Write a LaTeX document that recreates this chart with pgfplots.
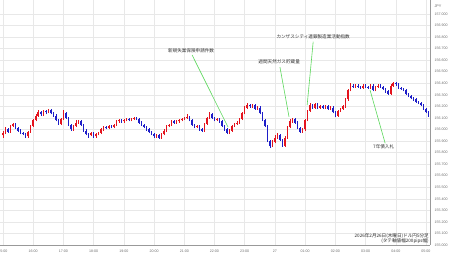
\documentclass[border=0pt]{standalone}
\usepackage{pgfplots}
\pgfplotsset{compat=1.18}
\usepackage{pgfplotstable}
\usepackage{fontspec}
\setmainfont{Liberation Sans}
\newfontfamily\cjk{Noto Sans CJK JP}
\definecolor{upcol}{RGB}{228,20,30}
\definecolor{dncol}{RGB}{30,30,200}
\definecolor{anno}{RGB}{90,215,90}
\definecolor{gridc}{RGB}{232,232,232}
\definecolor{tickc}{RGB}{110,110,110}

\pgfplotstableread{
k o c h l
0 155.95 155.97 155.99 155.93
1 155.97 156.00 156.02 155.96
2 156.00 155.98 156.01 155.97
3 155.98 156.03 156.04 155.97
4 156.03 156.05 156.06 156.02
5 156.05 156.01 156.06 156.00
6 156.01 155.99 156.02 155.98
7 155.99 155.97 156.00 155.96
8 155.97 155.96 155.98 155.95
9 155.96 155.94 155.97 155.93
10 155.94 155.98 155.99 155.93
11 155.98 156.03 156.04 155.97
12 156.03 156.08 156.09 156.02
13 156.08 156.12 156.13 156.07
14 156.12 156.15 156.17 156.11
15 156.15 156.13 156.16 156.12
16 156.13 156.16 156.17 156.12
17 156.16 156.15 156.17 156.13
18 156.15 156.17 156.18 156.14
19 156.17 156.14 156.18 156.13
20 156.14 156.12 156.15 156.11
21 156.12 156.08 156.13 156.07
22 156.08 156.05 156.09 156.04
23 156.05 156.09 156.10 156.04
24 156.09 156.14 156.17 156.08
25 156.14 156.10 156.15 156.09
26 156.10 156.04 156.11 156.03
27 156.04 156.00 156.05 155.99
28 156.00 156.03 156.04 155.99
29 156.03 156.06 156.08 156.02
30 156.06 156.07 156.08 156.05
31 156.07 156.04 156.08 156.03
32 156.04 155.99 156.05 155.98
33 155.99 155.96 156.00 155.95
34 155.96 155.95 155.97 155.93
35 155.95 155.97 155.98 155.94
36 155.97 155.94 155.98 155.93
37 155.94 155.96 155.97 155.93
38 155.96 155.97 155.98 155.95
39 155.97 156.00 156.01 155.96
40 156.00 156.02 156.03 155.99
41 156.02 156.01 156.03 156.00
42 156.01 156.03 156.04 156.00
43 156.03 156.02 156.04 156.01
44 156.02 156.04 156.05 156.01
45 156.04 156.07 156.08 156.03
46 156.07 156.08 156.09 156.06
47 156.08 156.07 156.09 156.06
48 156.07 156.08 156.09 156.06
49 156.08 156.09 156.10 156.07
50 156.09 156.08 156.10 156.07
51 156.08 156.09 156.10 156.07
52 156.09 156.10 156.11 156.08
53 156.10 156.09 156.11 156.08
54 156.09 156.06 156.10 156.05
55 156.06 156.04 156.07 156.03
56 156.04 156.02 156.05 156.01
57 156.02 156.00 156.03 155.99
58 156.00 155.98 156.01 155.97
59 155.98 155.96 155.99 155.95
60 155.96 155.94 155.97 155.93
61 155.94 155.95 155.96 155.93
62 155.95 155.93 155.96 155.92
63 155.93 155.96 155.97 155.92
64 155.96 155.99 156.00 155.95
65 155.99 156.03 156.04 155.98
66 156.03 156.04 156.05 156.02
67 156.04 156.07 156.08 156.03
68 156.07 156.06 156.08 156.05
69 156.06 156.07 156.08 156.05
70 156.07 156.08 156.09 156.06
71 156.08 156.09 156.10 156.07
72 156.09 156.10 156.11 156.08
73 156.10 156.11 156.13 156.09
74 156.11 156.08 156.12 156.07
75 156.08 156.04 156.09 156.03
76 156.04 156.02 156.05 156.01
77 156.02 156.03 156.04 156.01
78 156.03 156.00 156.04 155.99
79 156.00 155.99 156.01 155.98
80 155.99 156.05 156.06 155.98
81 156.05 156.10 156.11 156.04
82 156.10 156.13 156.15 156.09
83 156.13 156.10 156.14 156.09
84 156.10 156.08 156.11 156.07
85 156.08 156.09 156.10 156.07
86 156.09 156.07 156.10 156.06
87 156.07 156.03 156.08 156.02
88 156.03 156.00 156.04 155.99
89 156.00 155.97 156.01 155.96
90 155.97 155.99 156.00 155.96
91 155.99 156.03 156.04 155.98
92 156.03 156.05 156.06 156.02
93 156.05 156.06 156.07 156.04
94 156.06 156.09 156.10 156.05
95 156.09 156.14 156.15 156.08
96 156.14 156.19 156.20 156.13
97 156.19 156.21 156.23 156.18
98 156.21 156.20 156.22 156.19
99 156.20 156.21 156.22 156.19
100 156.21 156.18 156.22 156.17
101 156.18 156.19 156.20 156.17
102 156.19 156.14 156.20 156.13
103 156.14 156.08 156.15 156.07
104 156.08 156.03 156.09 156.02
105 156.03 155.90 156.04 155.89
106 155.90 155.86 155.91 155.84
107 155.86 155.89 155.91 155.85
108 155.89 155.93 155.95 155.88
109 155.93 155.95 155.97 155.92
110 155.95 155.91 155.96 155.90
111 155.91 155.86 155.92 155.85
112 155.86 155.93 155.94 155.85
113 155.93 156.02 156.03 155.92
114 156.02 156.07 156.09 156.01
115 156.07 156.09 156.10 156.06
116 156.09 156.06 156.10 156.05
117 156.06 156.01 156.07 156.00
118 156.01 155.98 156.02 155.97
119 155.98 156.00 156.01 155.97
120 156.00 156.08 156.09 155.99
121 156.08 156.16 156.17 156.07
122 156.16 156.21 156.23 156.15
123 156.21 156.19 156.22 156.18
124 156.19 156.22 156.23 156.18
125 156.22 156.19 156.23 156.18
126 156.19 156.20 156.21 156.18
127 156.20 156.19 156.21 156.18
128 156.19 156.20 156.21 156.18
129 156.20 156.18 156.21 156.17
130 156.18 156.19 156.20 156.17
131 156.19 156.15 156.20 156.14
132 156.15 156.12 156.16 156.11
133 156.12 156.16 156.17 156.11
134 156.16 156.18 156.19 156.15
135 156.18 156.20 156.21 156.17
136 156.20 156.26 156.27 156.19
137 156.26 156.34 156.35 156.25
138 156.34 156.38 156.40 156.33
139 156.38 156.37 156.39 156.36
140 156.37 156.38 156.39 156.36
141 156.38 156.37 156.39 156.36
142 156.37 156.36 156.38 156.35
143 156.36 156.38 156.39 156.35
144 156.38 156.37 156.39 156.36
145 156.37 156.36 156.38 156.35
146 156.36 156.38 156.39 156.35
147 156.38 156.34 156.39 156.33
148 156.34 156.37 156.38 156.33
149 156.37 156.38 156.39 156.36
150 156.38 156.37 156.39 156.36
151 156.37 156.35 156.38 156.34
152 156.35 156.33 156.36 156.32
153 156.33 156.31 156.34 156.30
154 156.31 156.38 156.39 156.30
155 156.38 156.40 156.41 156.37
156 156.40 156.39 156.41 156.38
157 156.39 156.36 156.40 156.35
158 156.36 156.35 156.37 156.34
159 156.35 156.34 156.36 156.33
160 156.34 156.31 156.35 156.30
161 156.31 156.29 156.32 156.28
162 156.29 156.27 156.30 156.26
163 156.27 156.26 156.28 156.25
164 156.26 156.24 156.27 156.23
165 156.24 156.23 156.25 156.22
166 156.23 156.21 156.24 156.20
167 156.21 156.18 156.22 156.17
168 156.18 156.15 156.19 156.14
169 156.15 156.12 156.16 156.11
}\candles

\pgfplotsset{
  candle/.style 2 args={draw=none, mark=none, forget plot,
    /pgfplots/error bars/y dir=plus,
    /pgfplots/error bars/y explicit,
    /pgfplots/error bars/error mark=none,
    /pgfplots/error bars/error bar style={draw=#1, line width=#2, solid, line cap=butt}},
}

\begin{document}
\begin{tikzpicture}
\begin{axis}[
  scale only axis, width=430pt, height=245pt,
  xmin=-1.19, xmax=169.6, ymin=155, ymax=157.121,
  axis x line*=bottom, axis y line*=right,
  axis line style={draw=gray!80, line width=0.5pt},
  yticklabel pos=right,
  ytick={155,155.1,155.2,155.3,155.4,155.5,155.6,155.7,155.8,155.9,156,156.1,156.2,156.3,156.4,156.5,156.6,156.7,156.8,156.9,157},
  xtick={0,12,24,36,48,60,72,84,96,108,120,132,144,156,168},
  xticklabels={15:00,16:00,17:00,18:00,19:00,20:00,21:00,22:00,23:00,27,01:00,02:00,03:00,04:00,05:00},
  major tick length=0pt,
  grid=major, major grid style={draw=gridc, line width=0.5pt},
  /pgf/number format/.cd, fixed, fixed zerofill, precision=3, 1000 sep={}, assume math mode=true,
  /pgfplots/.cd,
  yticklabel style={font=\fontsize{3.6}{4}\selectfont, text=tickc, xshift=1pt},
  xticklabel style={font=\fontsize{3.6}{4}\selectfont, text=tickc, yshift=-1.5pt},
  clip=false,
]
% wicks
\addplot[restrict expr to domain={\thisrow{c}-\thisrow{o}}{-0.0001:1}, candle={upcol}{0.45pt}]
  table[x=k, y=l, y error plus expr={\thisrow{h}-\thisrow{l}}] {\candles};
\addplot[restrict expr to domain={\thisrow{c}-\thisrow{o}}{-1:-0.0001}, candle={dncol}{0.45pt}]
  table[x=k, y=l, y error plus expr={\thisrow{h}-\thisrow{l}}] {\candles};
% bodies
\addplot[restrict expr to domain={\thisrow{c}-\thisrow{o}}{-0.0001:1}, candle={upcol}{1.5pt}]
  table[x=k, y=o, y error plus expr={\thisrow{c}-\thisrow{o}}] {\candles};
\addplot[restrict expr to domain={\thisrow{c}-\thisrow{o}}{-1:-0.0001}, candle={dncol}{1.5pt}]
  table[x=k, y=c, y error plus expr={\thisrow{o}-\thisrow{c}}] {\candles};

% annotations
\draw[anno, line width=0.6pt] (axis cs:75.1,156.645) -- (axis cs:89.4,156.02);
\draw[anno, line width=0.6pt] (axis cs:110,156.54) -- (axis cs:113.6,156.11);
\draw[anno, line width=0.6pt] (axis cs:123.2,156.76) -- (axis cs:120.8,156.21);
\draw[anno, line width=0.6pt] (axis cs:145.8,156.34) -- (axis cs:151.8,155.88);
\node[font=\cjk\fontsize{4.6}{5}\selectfont, text=black!80, inner sep=0pt] at (axis cs:74.7,156.68) {新規失業保険申請件数};
\node[font=\cjk\fontsize{4.6}{5}\selectfont, text=black!80, inner sep=0pt] at (axis cs:109.7,156.585) {週間天然ガス貯蔵量};
\node[font=\cjk\fontsize{4.6}{5}\selectfont, text=black!80, inner sep=0pt] at (axis cs:123.2,156.80) {カンザスシティ連銀製造業活動指数};
\node[font=\cjk\fontsize{4.6}{5}\selectfont, text=black!80, inner sep=0pt] at (axis cs:151.2,155.85) {7年債入札};
\node[font=\cjk\fontsize{4.6}{5.4}\selectfont, text=black!85, inner sep=0pt, anchor=south east, align=right] at (axis cs:169.2,155.01) {2026年2月26日(木曜日)ドル円5分足\\(タテ軸値幅200pips幅)};
\node[font=\fontsize{3.8}{4}\selectfont, text=tickc, inner sep=0pt, anchor=west] at (rel axis cs:1.01,0.975) {JPY};
\coordinate (bl) at (rel axis cs:0,0);
\coordinate (tr) at (rel axis cs:1,1);
\end{axis}
\pgfresetboundingbox
\path[use as bounding box] ([yshift=-13pt]bl) rectangle ([xshift=20pt]tr);
\end{tikzpicture}
\end{document}
